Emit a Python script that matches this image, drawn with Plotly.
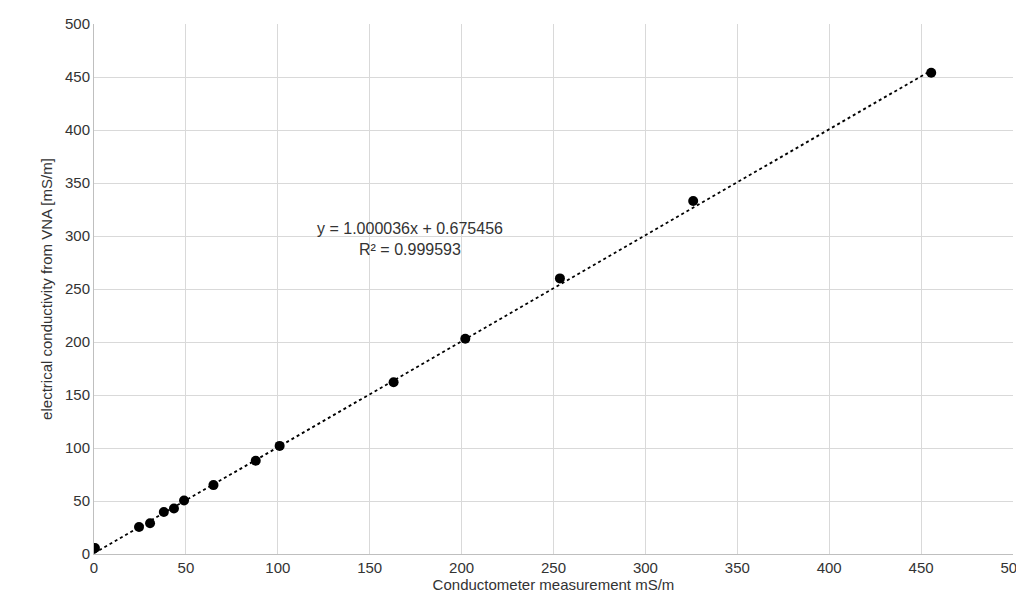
import plotly.graph_objects as go

x_vals = [0.5, 24.5, 30.5, 38, 43.5, 49, 65, 88, 101, 163, 202, 253.5, 326, 455.5]
y_vals = [5.7, 25.5, 29, 39.6, 43, 50.5, 65, 88, 102, 162, 203, 260, 333, 454]
slope, intercept = 1.000036, 0.675456
fit_x = [0, 456]
fit_y = [slope * v + intercept for v in fit_x]

fig = go.Figure()
fig.add_trace(go.Scatter(x=fit_x, y=fit_y, mode="lines",
                         line=dict(color="black", width=1.8, dash="dot"), showlegend=False))
fig.add_trace(go.Scatter(x=x_vals, y=y_vals, mode="markers",
                         marker=dict(color="black", size=10), showlegend=False))
fig.add_annotation(x=172, y=297, text="y = 1.000036x + 0.675456<br>R² = 0.999593",
                   showarrow=False, font=dict(size=16, color="#333"), align="center")
axis = dict(range=[0, 500], dtick=50, showgrid=True, gridcolor="#d9d9d9",
            showline=True, linecolor="#bfbfbf", zeroline=False, ticks="",
            tickfont=dict(size=15, color="#333"), automargin=False)
fig.update_layout(
    width=1024, height=609, plot_bgcolor="white", paper_bgcolor="white",
    font=dict(family="Liberation Sans, Arial", color="#333"),
    margin=dict(l=86, r=19, t=16, b=63),
    xaxis=dict(**axis, title=dict(text="Conductometer measurement mS/m", font=dict(size=15), standoff=4)),
    yaxis=dict(**axis, title=dict(text="electrical conductivity from VNA [mS/m]", font=dict(size=15), standoff=8)),
)
fig.write_html("out.html")
